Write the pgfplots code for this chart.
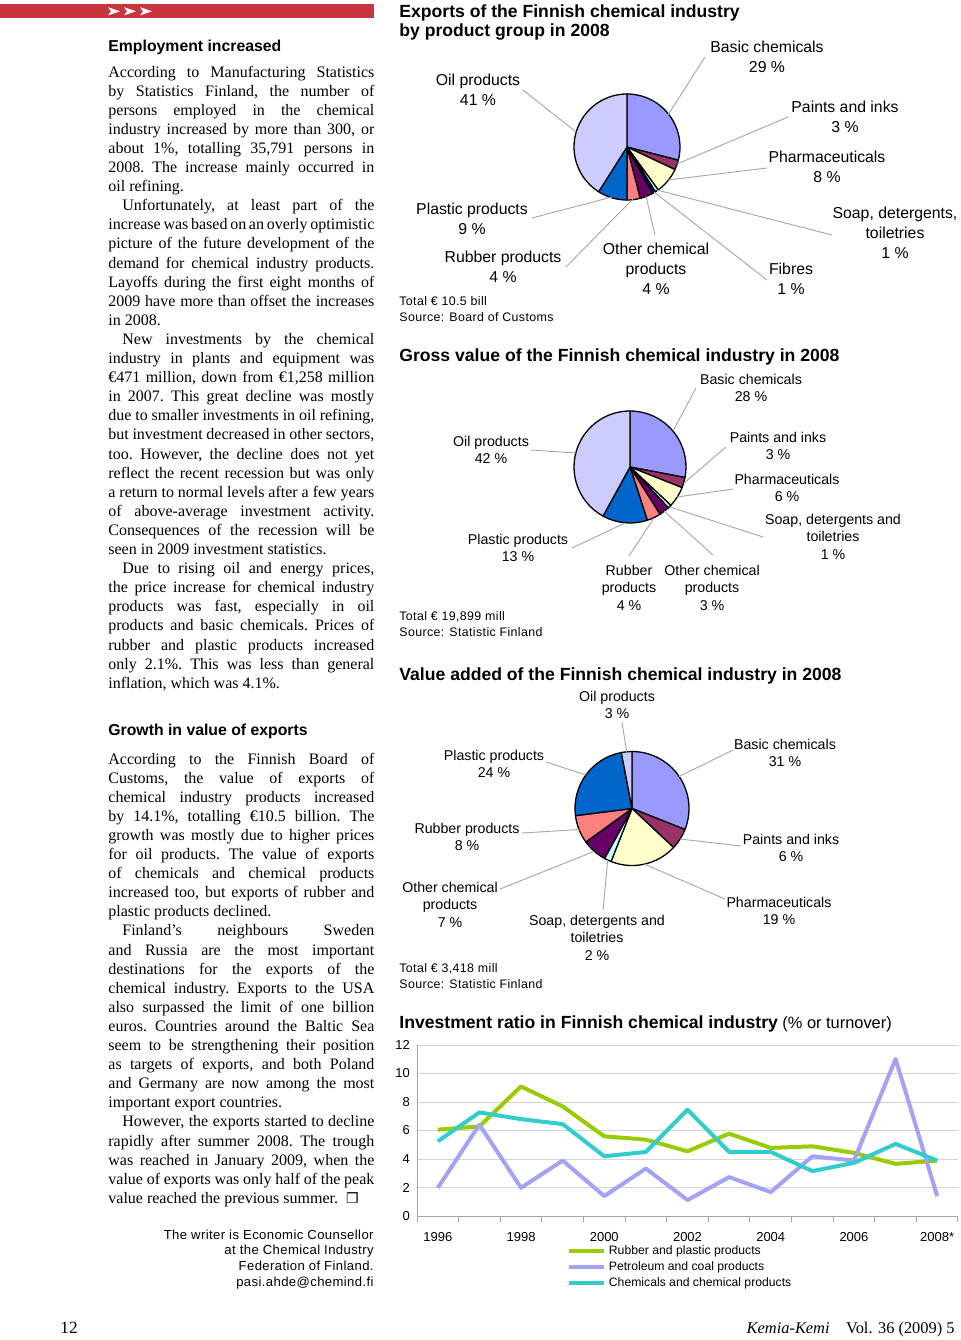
\documentclass[border=0pt]{standalone}
\usepackage{pgfplots}
\pgfplotsset{compat=1.18}
\usepackage{fontspec}
\setmainfont{Liberation Serif}
\setsansfont{Liberation Sans}
\newfontfamily\dejavu{DejaVu Sans}
\newfontfamily\lsans[LetterSpace=3.0]{Liberation Sans}

\definecolor{pBasic}{HTML}{9999FF}
\definecolor{pPaint}{HTML}{993366}
\definecolor{pPharm}{HTML}{FFFFCC}
\definecolor{pSoap}{HTML}{CCFFFF}
\definecolor{pFib}{HTML}{000080}
\definecolor{pOther}{HTML}{660066}
\definecolor{pRub}{HTML}{FF8080}
\definecolor{pPlast}{HTML}{0066CC}
\definecolor{pOil}{HTML}{CCCCFF}
\definecolor{lGreen}{HTML}{99CC00}
\definecolor{lPurple}{HTML}{A3A3F5}
\definecolor{lCyan}{HTML}{33CCCC}
\definecolor{barRed}{HTML}{C8363D}
\definecolor{leader}{HTML}{A6A6A6}

% pie data (percent, clockwise from 12 o'clock)
\newcommand\expdata{29/pBasic,3/pPaint,8/pPharm,1/pSoap,1/pFib,4/pOther,4/pRub,9/pPlast,41/pOil}
\newcommand\grossdata{28/pBasic,3/pPaint,6/pPharm,1/pSoap,3/pOther,4/pRub,13/pPlast,42/pOil}
\newcommand\vadata{31/pBasic,6/pPaint,19/pPharm,2/pSoap,7/pOther,8/pRub,24/pPlast,3/pOil}

\newcommand\pieslices[2]{%
  \xdef\pcum{90}%
  \foreach \v/\c in #2 {%
    \pgfmathsetmacro\pend{\pcum-\v*3.6}%
    \edef\tmp{\noexpand\filldraw[fill=\c, draw=black, line width=0.65pt, line join=round]
      (axis cs:0,0) -- ++(\pcum:#1) arc[start angle=\pcum, end angle=\pend, radius=#1] -- cycle;}%
    \tmp
    \xdef\pcum{\pend}%
  }%
}

\pgfplotstableread{
year rubber petro chem
1996 6.06 1.98 5.24
1997 6.29 6.41 7.27
1998 9.09 1.98 6.80
1999 7.69 3.89 6.45
2000 5.59 1.40 4.19
2001 5.36 3.33 4.50
2002 4.54 1.12 7.46
2003 5.78 2.73 4.50
2004 4.78 1.68 4.50
2005 4.89 4.19 3.15
2006 4.43 3.89 3.73
2007 3.66 11.02 5.06
2008 3.89 1.40 3.89
}\invdata

\newcommand\lab{\sffamily\fontsize{7.9}{9}\selectfont}
\newcommand\labg{\sffamily\fontsize{7.1}{8}\selectfont}
\newcommand\src{\lsans\fontsize{6.2}{7}\selectfont}
\newcommand\ttl{\sffamily\bfseries\fontsize{8.8}{10}\selectfont}
\newcommand\hdg{\sffamily\bfseries\fontsize{7.9}{9}\selectfont}

\newcommand\PL[5]{\foreach \t [count=\i from 0] in {#5}{\node[anchor=base,inner sep=0pt,font=#4] at (#1,{#2+\i*#3}) {\t};}}

\newcommand\J[1]{\hbox to 133pt{#1}}
\newcommand\JI[1]{\hbox to 133pt{\hspace*{7pt}#1}}
\newcommand\E[1]{\hbox{#1}}
\newcommand\bodyfont{\rmfamily\fontsize{8}{9.55}\selectfont\fontdimen4\font=1.1pt\frenchspacing}

\begin{document}
\begin{tikzpicture}
\begin{scope}[x=0.5pt,y=-0.5pt]
  \fill[white] (0,0) rectangle (960,1340);
\end{scope}

% ---------- pies ----------
\begin{axis}[at={(313.5pt,-73.5pt)}, anchor=center, width=53pt, height=53pt,
  scale only axis, hide axis, clip=false, xmin=-1, xmax=1, ymin=-1, ymax=1]
  \pieslices{26.5pt}{\expdata}
\end{axis}
\begin{axis}[at={(315pt,-233.5pt)}, anchor=center, width=56pt, height=56pt,
  scale only axis, hide axis, clip=false, xmin=-1, xmax=1, ymin=-1, ymax=1]
  \pieslices{28pt}{\grossdata}
\end{axis}
\begin{axis}[at={(316pt,-404.25pt)}, anchor=center, width=57pt, height=57pt,
  scale only axis, hide axis, clip=false, xmin=-1, xmax=1, ymin=-1, ymax=1]
  \pieslices{28.5pt}{\vadata}
\end{axis}

% ---------- line chart ----------
\begin{axis}[at={(208.5pt,-608pt)}, anchor=south west,
  width=270.5pt, height=85.5pt, scale only axis,
  xmin=1995.5, xmax=2008.5, ymin=0, ymax=12,
  xtick={1996,1998,...,2008},
  xticklabels={1996,1998,2000,2002,2004,2006,2008*},
  minor xtick={1995.5,1996.5,...,2008.5},
  ytick={0,2,...,12},
  /pgf/number format/assume math mode=true,
  ymajorgrids, major grid style={draw=black!17, line width=0.5pt},
  axis x line*=bottom, axis y line*=left,
  axis line style={-, draw=black!35, line width=0.5pt},
  tick align=outside, major tick length=0pt, minor tick length=3pt,
  minor tick style={draw=black!35, line width=0.5pt},
  ticklabel style={font=\sffamily\fontsize{6.5}{7}\selectfont, text=black},
  xticklabel style={yshift=-4.5pt},
  yticklabel style={xshift=0pt},
  legend style={at={(0.276,-0.16)}, anchor=north west, draw=none, fill=none,
    inner sep=0pt, font=\sffamily\fontsize{6.1}{7}\selectfont, row sep=0.4pt,
    nodes={inner sep=0.6pt, text height=4.9pt, text depth=1.5pt}},
  legend cell align=left,
  legend image code/.code={\draw[#1, line width=2pt] (0pt,0pt) -- (17.5pt,0pt); \path (18.5pt,0pt);},
  every axis plot/.append style={line width=2pt, line join=round, mark=none},
]
\addplot[color=lGreen] table[x=year, y=rubber] {\invdata};
\addlegendentry{Rubber and plastic products}
\addplot[color=lPurple] table[x=year, y=petro] {\invdata};
\addlegendentry{Petroleum and coal products}
\addplot[color=lCyan] table[x=year, y=chem] {\invdata};
\addlegendentry{Chemicals and chemical products}
\end{axis}

\begin{scope}[x=0.5pt,y=-0.5pt]
% top bar
\fill[barRed] (0,4) rectangle (374,18.3);
\foreach \a in {108,124,140} {\fill[white] (\a,7.2) -- (\a+12,11.3) -- (\a,15.4) -- (\a+3,11.3) -- cycle;}

% headings
\node[anchor=base west, inner sep=0, font=\hdg] at (108,51.5) {Employment increased};
\node[anchor=base west, inner sep=0, font=\hdg] at (108,735.5) {Growth in value of exports};

% body text
\node[anchor=base west, inner sep=0] at (108,77) {\parbox[t]{133pt}{\bodyfont
\J{According to Manufacturing Statistics}
\J{by Statistics Finland, the number of}
\J{persons employed in the chemical}
\J{industry increased by more than 300, or}
\J{about 1\%, totalling 35,791 persons in}
\J{2008. The increase mainly occurred in}
\E{oil refining.}
\JI{Unfortunately, at least part of the}
\J{increase was based on an overly optimistic}
\J{picture of the future development of the}
\J{demand for chemical industry products.}
\J{Layoffs during the first eight months of}
\J{2009 have more than offset the increases}
\E{in 2008.}
\JI{New investments by the chemical}
\J{industry in plants and equipment was}
\J{€471 million, down from €1,258 million}
\J{in 2007. This great decline was mostly}
\J{due to smaller investments in oil refining,}
\J{but investment decreased in other sectors,}
\J{too. However, the decline does not yet}
\J{reflect the recent recession but was only}
\J{a return to normal levels after a few years}
\J{of above-average investment activity.}
\J{Consequences of the recession will be}
\E{seen in 2009 investment statistics.}
\JI{Due to rising oil and energy prices,}
\J{the price increase for chemical industry}
\J{products was fast, especially in oil}
\J{products and basic chemicals. Prices of}
\J{rubber and plastic products increased}
\J{only 2.1\%. This was less than general}
\E{inflation, which was 4.1\%.}
}};

\node[anchor=base west, inner sep=0] at (108,764) {\parbox[t]{133pt}{\bodyfont
\J{According to the Finnish Board of}
\J{Customs, the value of exports of}
\J{chemical industry products increased}
\J{by 14.1\%, totalling €10.5 billion. The}
\J{growth was mostly due to higher prices}
\J{for oil products. The value of exports}
\J{of chemicals and chemical products}
\J{increased too, but exports of rubber and}
\E{plastic products declined.}
\JI{Finland’s neighbours Sweden}
\J{and Russia are the most important}
\J{destinations for the exports of the}
\J{chemical industry. Exports to the USA}
\J{also surpassed the limit of one billion}
\J{euros. Countries around the Baltic Sea}
\J{seem to be strengthening their position}
\J{as targets of exports, and both Poland}
\J{and Germany are now among the most}
\E{important export countries.}
\JI{However, the exports started to decline}
\J{rapidly after summer 2008. The trough}
\J{was reached in January 2009, when the}
\J{value of exports was only half of the peak}
\E{value reached the previous summer.\ \ {\dejavu\fontsize{7}{8}\selectfont ❒}}
}};

% writer note
\foreach \t [count=\i from 0] in {The writer is Economic Counsellor, at the Chemical Industry, Federation of Finland., pasi.ahde@chemind.fi}
  {\node[anchor=base east, inner sep=0, font=\lsans\fontsize{6.55}{8}\selectfont] at (374,{1239+\i*15.7}) {\t};}

% footer
\node[anchor=base west, inner sep=0, font=\rmfamily\fontsize{8.6}{10}\selectfont] at (60,1333) {12};
\node[anchor=base east, inner sep=0, font=\rmfamily\fontsize{8.2}{10}\selectfont] at (955,1333) {\textit{Kemia-Kemi}\quad Vol. 36 (2009) 5};

% ---- exports chart ----
\node[anchor=base west, inner sep=0, font=\ttl] at (399,17.3) {Exports of the Finnish chemical industry};
\node[anchor=base west, inner sep=0, font=\ttl] at (399,36.3) {by product group in 2008};
\begin{scope}[draw=leader, line width=0.45pt]
\draw (668,115) -- (705,57);
\draw (677,164) -- (788,117);
\draw (668,180) -- (767,168);
\draw (657,190) -- (832,235);
\draw (654,192) -- (767,280);
\draw (646,196) -- (655,235);
\draw (633,199) -- (566,267);
\draw (612,197) -- (532,218);
\draw (576,132) -- (523,90);
\end{scope}
\PL{767}{52.7}{20}{\lab}{Basic chemicals, 29 \%}
\PL{478}{85.7}{20}{\lab}{Oil products, 41 \%}
\PL{845}{112.7}{20}{\lab}{Paints and inks, 3 \%}
\PL{827}{162.7}{20}{\lab}{Pharmaceuticals, 8 \%}
\PL{895}{218.7}{20}{\lab}{{Soap, detergents,}, toiletries, 1 \%}
\PL{791}{274.7}{20}{\lab}{Fibres, 1 \%}
\PL{656}{254.7}{20}{\lab}{Other chemical, products, 4 \%}
\PL{472}{214.7}{20}{\lab}{Plastic products, 9 \%}
\PL{503}{262.7}{20}{\lab}{Rubber products, 4 \%}
\node[anchor=base west, inner sep=0, font=\src] at (399,305.5) {Total € 10.5 bill};
\node[anchor=base west, inner sep=0, font=\src] at (399,321) {Source: Board of Customs};

% ---- gross value chart ----
\node[anchor=base west, inner sep=0, font=\ttl] at (399,361.3) {Gross value of the Finnish chemical industry in 2008};
\begin{scope}[draw=leader, line width=0.45pt]
\draw (673,431) -- (696,388);
\draw (684,483) -- (726,447);
\draw (677,497) -- (733,489);
\draw (670,507) -- (763,537);
\draw (664,511) -- (713,555);
\draw (654,518) -- (629,556);
\draw (625,523) -- (572,548);
\draw (576,453) -- (531,450);
\end{scope}
\PL{751}{384.1}{17.5}{\labg}{Basic chemicals, 28 \%}
\PL{778}{442.1}{17.5}{\labg}{Paints and inks, 3 \%}
\PL{787}{484.1}{17.5}{\labg}{Pharmaceuticals, 6 \%}
\PL{833}{524.1}{17.5}{\labg}{{Soap, detergents and}, toiletries, 1 \%}
\PL{491}{446.1}{17.5}{\labg}{Oil products, 42 \%}
\PL{518}{544.1}{17.5}{\labg}{Plastic products, 13 \%}
\PL{629}{575.1}{17.5}{\labg}{Rubber, products, 4 \%}
\PL{712}{575.1}{17.5}{\labg}{Other chemical, products, 3 \%}
\node[anchor=base west, inner sep=0, font=\src] at (399,620.5) {Total € 19,899 mill};
\node[anchor=base west, inner sep=0, font=\src] at (399,636.5) {Source: Statistic Finland};

% ---- value added chart ----
\node[anchor=base west, inner sep=0, font=\ttl] at (399,680.3) {Value added of the Finnish chemical industry in 2008};
\begin{scope}[draw=leader, line width=0.45pt]
\draw (626.6,751.8) -- (622,722);
\draw (586,775) -- (546,762);
\draw (679,776.5) -- (733,750);
\draw (579,829.5) -- (522,833);
\draw (680,839) -- (741,846);
\draw (594.3,851.3) -- (500,889);
\draw (607.7,860) -- (603,910);
\draw (644.4,864.1) -- (725,899);
\end{scope}
\PL{617}{701.1}{17.5}{\labg}{Oil products, 3 \%}
\PL{494}{760.1}{17.5}{\labg}{Plastic products, 24 \%}
\PL{785}{749.1}{17.5}{\labg}{Basic chemicals, 31 \%}
\PL{467}{833.1}{17.5}{\labg}{Rubber products, 8 \%}
\PL{791}{844.1}{17.5}{\labg}{Paints and inks, 6 \%}
\PL{450}{892.1}{17.5}{\labg}{Other chemical, products, 7 \%}
\PL{597}{925.1}{17.5}{\labg}{{Soap, detergents and}, toiletries, 2 \%}
\PL{779}{907.1}{17.5}{\labg}{Pharmaceuticals, 19 \%}
\node[anchor=base west, inner sep=0, font=\src] at (399,972) {Total € 3,418 mill};
\node[anchor=base west, inner sep=0, font=\src] at (399,988) {Source: Statistic Finland};

% ---- investment chart title ----
\node[anchor=base west, inner sep=0] at (399,1028.3) {\ttl Investment ratio in Finnish chemical industry\mdseries\fontsize{8.2}{10}\selectfont\ (\% or turnover)};

\pgfresetboundingbox
\path (0,0) rectangle (960,1340);
\end{scope}
\end{tikzpicture}
\end{document}
